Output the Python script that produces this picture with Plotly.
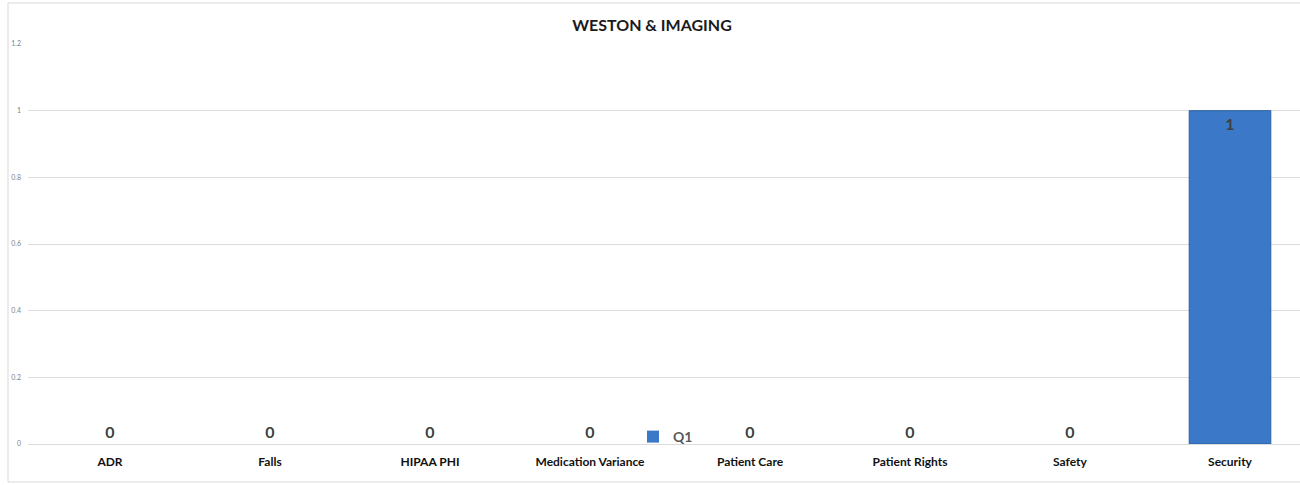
import plotly.graph_objects as go

categories = ["ADR", "Falls", "HIPAA PHI", "Medication Variance", "Patient Care",
              "Patient Rights", "Safety", "Security"]
q1_values = [0, 0, 0, 0, 0, 0, 0, 1]
y_ticks = [0, 0.2, 0.4, 0.6, 0.8, 1, 1.2]
title_text = "WESTON & IMAGING"
series_name = "Q1"

W, H = 1300, 485
ml, mr, mt, mb = 28, 0, 44, 41
PW, PH = W - ml - mr, H - mt - mb

positions = ["inside" if v > 0 else "outside" for v in q1_values]
line_widths = [1 if v > 0 else 0 for v in q1_values]
lab_font = dict(family="Lato", size=16, color="#404040", weight="bold")

fig = go.Figure()
fig.add_trace(go.Bar(
    x=categories, y=q1_values, name=series_name,
    width=0.51,
    marker=dict(color="#3b79c8", line=dict(color="#2d5f9f", width=line_widths)),
    text=[str(v) for v in q1_values],
    textposition=positions,
    insidetextanchor="end",
    textfont=lab_font, outsidetextfont=lab_font, insidetextfont=lab_font,
    cliponaxis=False,
    showlegend=True,
))

fig.update_layout(
    width=W, height=H,
    margin=dict(l=ml, r=mr, t=mt, b=mb),
    paper_bgcolor="white", plot_bgcolor="white",
    title=dict(text=title_text, x=(652 - ml) / PW, xref="paper", xanchor="center",
               y=1 - 25 / H, yref="container", yanchor="middle",
               font=dict(family="Lato", size=16, color="#1a1a1a", weight="bold")),
    xaxis=dict(range=[-0.5125, 7.4375], showgrid=False, showline=False, ticks="",
               tickfont=dict(family="Lato", size=12, color="#111111", weight="bold"),
               ticklabelstandoff=9, zeroline=False),
    yaxis=dict(range=[0, 1.2], tickvals=y_ticks, ticktext=[f"{t:g}" for t in y_ticks],
               showgrid=True, gridcolor="#dcdcdc", gridwidth=1,
               zeroline=True, zerolinecolor="#dcdcdc", zerolinewidth=1,
               tickfont=dict(family="Lato", size=7, color="#7f7f7f"),
               ticks="", ticklabelstandoff=6, showline=False),
    legend=dict(x=(633 - ml) / PW, y=7 / PH, xanchor="left", yanchor="middle",
                bgcolor="rgba(0,0,0,0)", itemwidth=30,
                font=dict(family="Lato", size=14, color="#595959", weight="bold")),
    showlegend=True,
)

fig.add_shape(type="rect", xref="paper", yref="paper",
              x0=(8 - ml) / PW, x1=(1320 - ml) / PW,
              y0=-(482 - (H - mb)) / PH, y1=(H - mb - 3) / PH,
              line=dict(color="#d9d9d9", width=1), fillcolor="rgba(0,0,0,0)", layer="below")

fig.write_html("out.html", config={"displayModeBar": False},
               post_script="document.body.style.margin='0';")
